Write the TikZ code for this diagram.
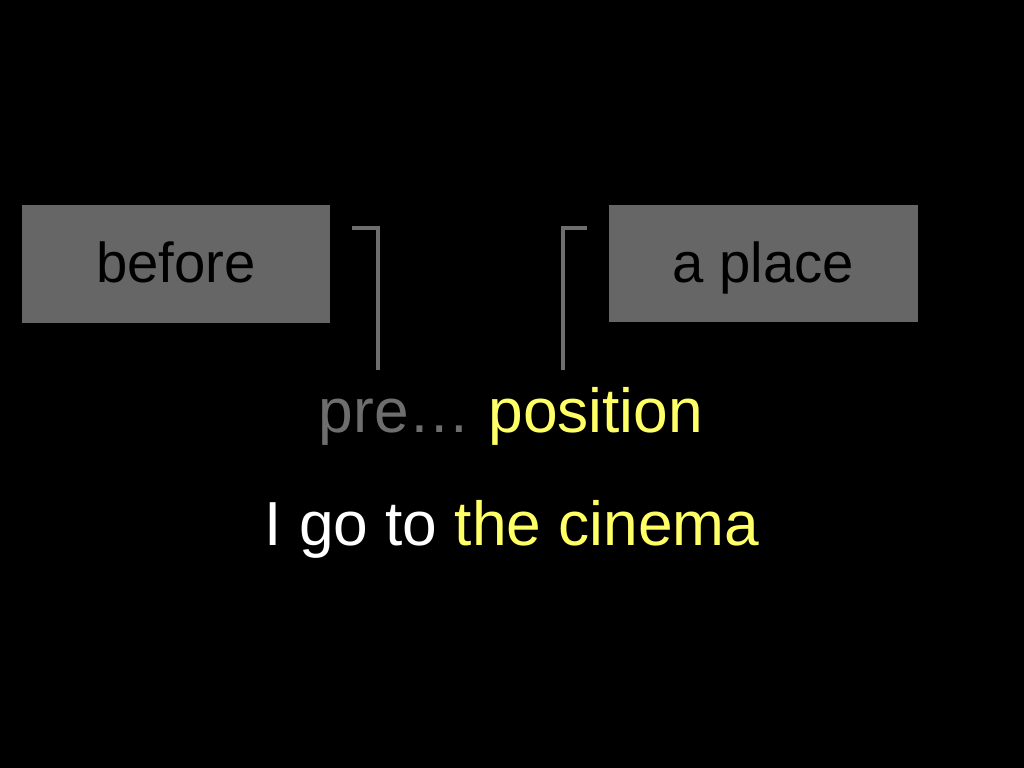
\documentclass[tikz,border=0pt]{standalone}
\usepackage{fontspec}
\setmainfont{Liberation Sans}
\usetikzlibrary{positioning}
\definecolor{boxgray}{HTML}{666666}
\definecolor{textgray}{HTML}{6E6E6E}
\definecolor{hilite}{HTML}{FFFF66}
\begin{document}
\begin{tikzpicture}[x=0.01cm,y=-0.01cm,font=\fontsize{17.7}{20}\selectfont,
    wordbox/.style={fill=boxgray,minimum width=3.08cm,minimum height=1.17cm,inner sep=0pt,text=black,
      font=\fontsize{16}{19}\selectfont,text height=12pt,text depth=1.2pt},
    brace/.style={draw=textgray,line width=1.15pt}]
            \def\pw{1024}
            \def\ph{768}
            \fill[black] (0,0) rectangle (\pw,\ph);

            \node[wordbox] (before) at (176,264) {before};
            \node[wordbox] (place) at (763.5,263.5) {a place};

            \draw[brace] (352,228) -- (378,228) -- (378,370);
            \draw[brace] (587,228) -- (563,228) -- (563,370);

            \node[anchor=base,inner sep=0pt] (prep) at (511,433) {\textcolor{textgray}{pre…} \textcolor{hilite}{position}};
            \node[anchor=base,inner sep=0pt,text=white] (sentence) at (512,546) {I go to \textcolor{hilite}{the cinema}};
        \end{tikzpicture}
\end{document}
